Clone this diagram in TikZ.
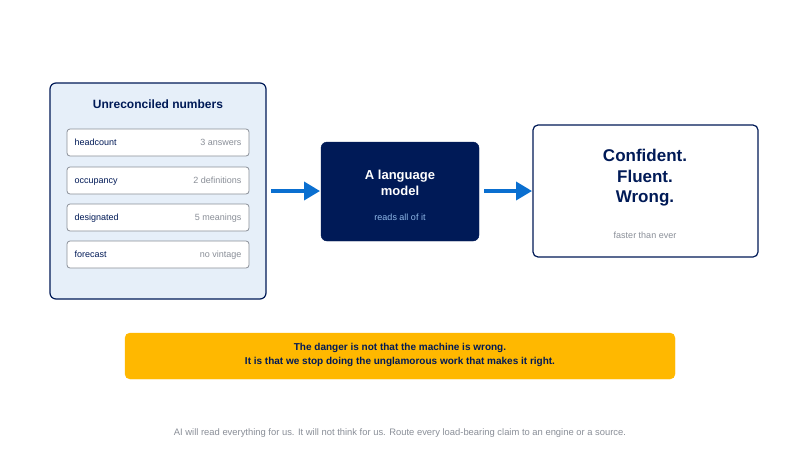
\documentclass[tikz,border=0pt]{standalone}
\usepackage{fontspec}
\setmainfont{Liberation Sans}
\usetikzlibrary{arrows.meta}
\definecolor{Navy}{HTML}{001A57}
\definecolor{PanelBlue}{HTML}{E6EFF9}
\definecolor{ArrowBlue}{HTML}{0A6FD0}
\definecolor{Amber}{HTML}{FFB800}
\definecolor{SoftGray}{HTML}{8A8F98}
\definecolor{LightCyan}{HTML}{8FB8E8}

\tikzset{
  item/.style={draw=SoftGray, fill=white, rounded corners=3pt, line width=0.8pt},
  flow/.style={-{Triangle[length=16pt,width=18pt]}, line width=3.5pt, color=ArrowBlue},
}

\begin{document}
\begin{tikzpicture}[x=1pt, y=-1pt]
 \useasboundingbox[fill=white] (0,0) rectangle (800,450);

 %%%%%%%%%% Left panel %%%%%%%%%%
 \draw [fill=PanelBlue, draw=Navy, line width=1.2pt, rounded corners=6pt] (50,83) rectangle (266,299);
 \node (title) at (158,104) {\fontsize{12}{14}\selectfont\bfseries\color{Navy}Unreconciled numbers};

 \foreach \y/\name/\note in {129/headcount/3 answers, 167/occupancy/2 definitions, 204/designated/5 meanings, 241/forecast/no vintage}{
   \draw [item] (67,\y) rectangle (249,\y+27);
   \node [anchor=base west] (\name) at (71,\y+16.5) {\fontsize{9}{10}\selectfont\color{Navy}\name};
   \node [anchor=base east] at (245,\y+16.5) {\fontsize{9}{10}\selectfont\color{SoftGray}\note};
 }

 %%%%%%%%%% Model %%%%%%%%%%
 \draw [fill=Navy, draw=Navy, rounded corners=6pt] (321,142) rectangle (479,241);
 \node [align=center, text=white, font=\fontsize{13}{16}\selectfont\bfseries] (model) at (400,183) {A language\\model};
 \node [text=LightCyan, font=\fontsize{9}{10}\selectfont] (reads) at (400,217) {reads all of it};

 %%%%%%%%%% Result %%%%%%%%%%
 \draw [fill=white, draw=Navy, line width=1.2pt, rounded corners=5pt] (533,125) rectangle (758,257);
 \node [align=center, text=Navy, font=\fontsize{17}{20.5}\selectfont\bfseries] (result) at (645,178) {Confident.\\Fluent.\\Wrong.};
 \node [text=SoftGray, font=\fontsize{9}{10}\selectfont] (faster) at (645,235) {faster than ever};

 %%%%%%%%%% Arrows %%%%%%%%%%
 \coordinate (a1) at (271,191);
 \coordinate (b1) at (320,191);
 \coordinate (a2) at (484,191);
 \coordinate (b2) at (532,191);
 \draw [flow] (a1) -- (b1);
 \draw [flow] (a2) -- (b2);

 %%%%%%%%%% Warning %%%%%%%%%%
 \draw [fill=Amber, draw=Amber, rounded corners=5pt] (125,333) rectangle (675,379);
 \node [align=center, text=Navy, font=\fontsize{10}{14}\selectfont\bfseries] (danger) at (400,355) {The danger is not that the machine is wrong.\\It is that we stop doing the unglamorous work that makes it right.};

 % footer
 \node [text=SoftGray, font=\fontsize{9.4}{10}\selectfont] (footer) at (400,433) {AI will read everything for us. It will not think for us. Route every load-bearing claim to an engine or a source.};
\end{tikzpicture}
\end{document}
